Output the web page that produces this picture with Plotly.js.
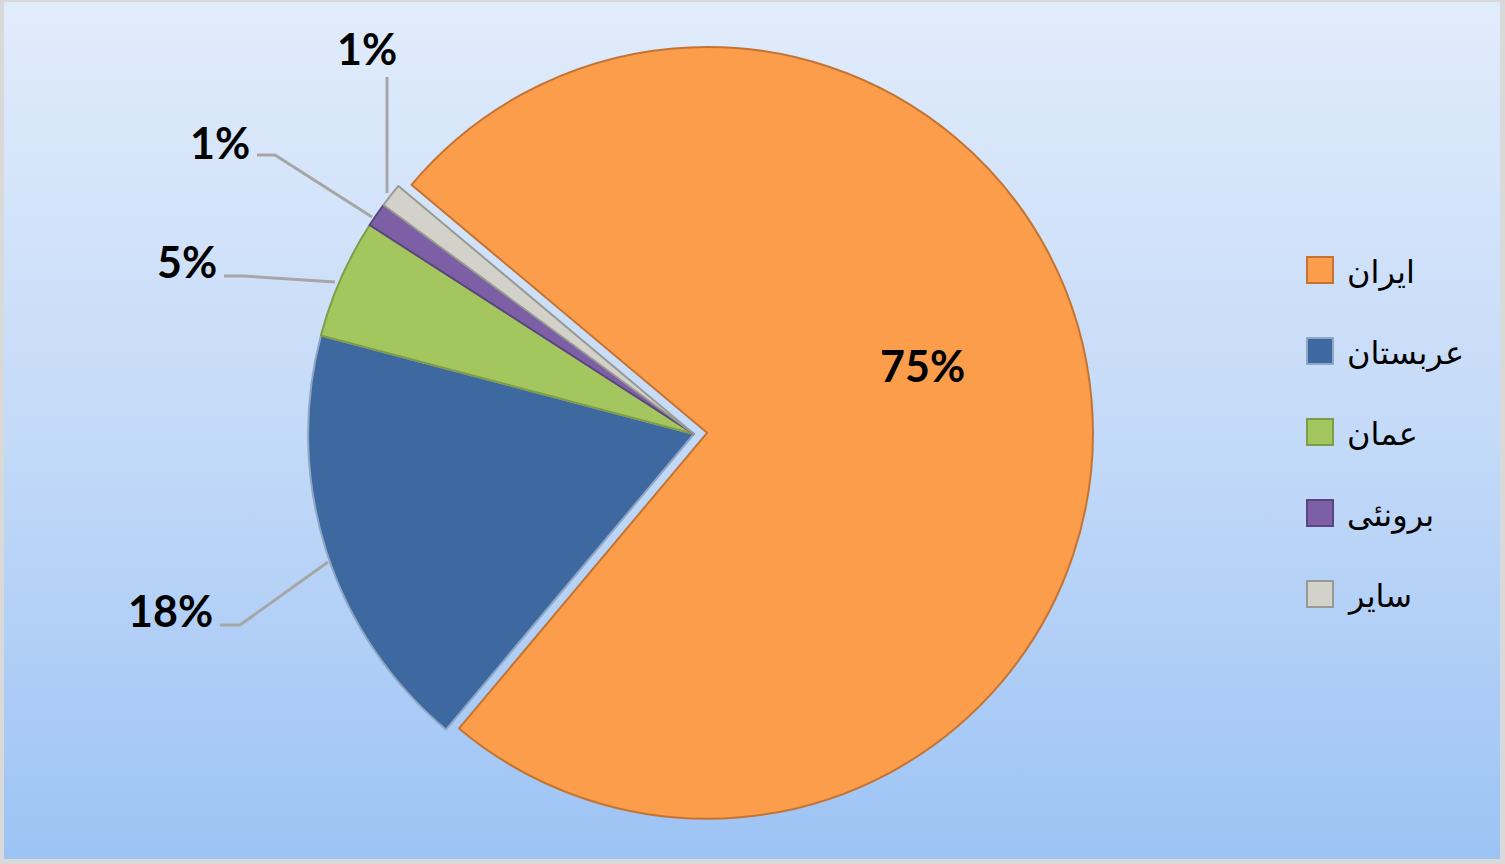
<!DOCTYPE html>
<html><head><meta charset="utf-8">
<script src="https://cdn.plot.ly/plotly-3.0.1.min.js"></script>
<style>
html,body{margin:0;padding:0;background:#ffffff;}
#chart{width:1505px;height:864px;background:linear-gradient(to bottom,#e1ecfb 0%,#c4daf8 50%,#9cc3f5 100%);
box-shadow: inset 4px 0 0 #d9d9d9, inset -5px 0 0 #d9d9d9, inset 0 2px 0 #d9d9d9, inset 0 -5px 0 #d9d9d9;}
</style></head><body><div id="chart"></div>
<script>
// ---- data ----
const labels = ['ایران', 'عربستان', 'عمان', 'برونئی', 'سایر'];
const values = [75, 18, 5, 1, 1];

// ---- styles ----
const colors = ['#fb9d4b', '#3d69a0', '#a3c75e', '#7d5fa6', '#d2d2ca'];
const lineColors = ['#c47432', '#8fa6c2', '#7f9c48', '#5b4480', '#9a9a94'];

const W = 1505, H = 864;
const px = x => x / W;
const py = y => 1 - y / H;

const total = values.reduce((a, b) => a + b, 0);
const pctText = values.map(v => Math.round(v / total * 100) + '%');

const CX = 694, CY = 434, HALF = 399;
const pie = {
  type: 'pie',
  labels: labels,
  values: values,
  sort: false,
  direction: 'clockwise',
  rotation: -50,
  pull: [0.034, 0, 0, 0, 0],
  textinfo: 'none',
  hoverinfo: 'label+percent',
  showlegend: false,
  marker: { colors: colors, line: { color: lineColors, width: 2 } },
  domain: { x: [px(CX - HALF), px(CX + HALF)], y: [py(CY + HALF), py(CY - HALF)] }
};

// label anchor positions (pixels) for each slice
const labelPos = [[922, 365], [170, 610], [187, 262], [220, 142], [367, 48]];
const annotations = labelPos.map((p, i) => ({
  xref: 'paper', yref: 'paper', x: px(p[0]), y: py(p[1]),
  xanchor: 'center', yanchor: 'middle', showarrow: false,
  text: '<b>' + pctText[i] + '</b>',
  font: { family: 'Lato, "DejaVu Sans", sans-serif', size: 43, color: '#000000' }
}));

// leader lines (pixels)
const leaders = [
  null,
  [[220, 625], [240, 625], [328, 562]],
  [[224, 276], [243, 276], [335, 282]],
  [[257, 155], [275, 155], [372, 217]],
  [[387, 77], [387, 193]]
];
const shapes = [];
leaders.forEach(l => {
  if (!l) return;
  const path = l.map((p, j) => (j ? 'L' : 'M') + px(p[0]) + ',' + py(p[1])).join(' ');
  shapes.push({ type: 'path', xref: 'paper', yref: 'paper', path: path,
    line: { color: '#a6a6a6', width: 3 } });
});

// legend (custom)
const legendY = [270, 351, 432, 513, 594];
labels.forEach((lab, i) => {
  const cy = legendY[i];
  shapes.push({ type: 'rect', xref: 'paper', yref: 'paper',
    x0: px(1307), x1: px(1333), y0: py(cy + 13), y1: py(cy - 13),
    fillcolor: colors[i], line: { color: lineColors[i], width: 2 } });
  annotations.push({ xref: 'paper', yref: 'paper', x: px(1345), y: py(cy + 2),
    xanchor: 'left', yanchor: 'middle', showarrow: false, text: lab,
    font: { family: '"DejaVu Sans", sans-serif', size: 32, color: '#000000' } });
});

const layout = {
  width: W, height: H,
  margin: { l: 0, r: 0, t: 0, b: 0 },
  paper_bgcolor: 'rgba(0,0,0,0)',
  plot_bgcolor: 'rgba(0,0,0,0)',
  showlegend: false,
  annotations: annotations,
  shapes: shapes
};

Plotly.newPlot('chart', [pie], layout, { displayModeBar: false });
</script></body></html>
